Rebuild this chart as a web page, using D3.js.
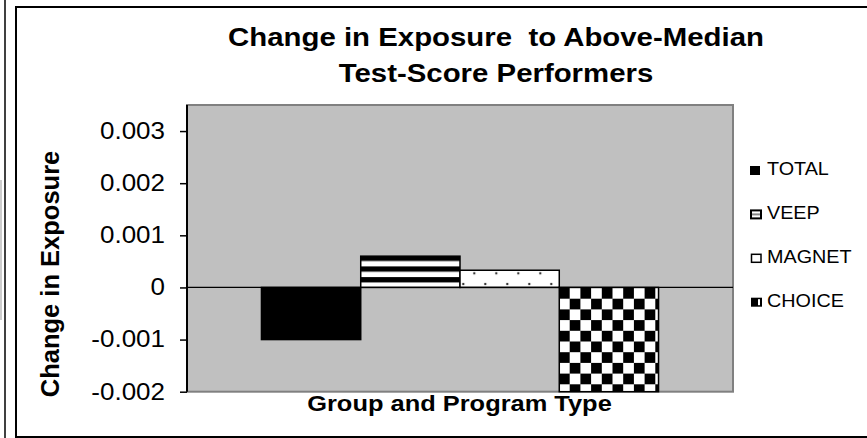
<!DOCTYPE html>
<html lang="en">
<head>
<meta charset="utf-8">
<script src="https://d3js.org/d3.v7.min.js"></script>
<style>
  html, body { margin: 0; padding: 0; overflow: hidden; background: #fff; }
  svg { display: block; }
  text { font-family: Arial, "Liberation Sans", sans-serif; fill: #000; }
</style>
</head>
<body>
<script>
// chart data
var series = ["TOTAL", "VEEP", "MAGNET", "CHOICE"];
var values = [-0.001, 0.0006, 0.00033, -0.002];
var yTicks = [-0.002, -0.001, 0, 0.001, 0.002, 0.003];
var fills = ["#000", "url(#stripes)", "url(#dots)", "url(#checks)"];

var width = 867, height = 438;
var sx = 1.13; // text in the picture is a little wide

var svg = d3.select("body").append("svg")
    .attr("width", width)
    .attr("height", height);

svg.append("rect").attr("width", width).attr("height", height).attr("fill", "#fff");

// fill patterns
var defs = svg.append("defs");

var stripes = defs.append("pattern").attr("id", "stripes")
    .attr("patternUnits", "userSpaceOnUse")
    .attr("width", 10).attr("height", 10.7).attr("y", 255.7);
stripes.append("rect").attr("width", 10).attr("height", 10.7).attr("fill", "#fff");
stripes.append("rect").attr("width", 10).attr("height", 5.3).attr("fill", "#000");

var dots = defs.append("pattern").attr("id", "dots")
    .attr("patternUnits", "userSpaceOnUse")
    .attr("width", 22).attr("height", 21.4).attr("x", 463.3).attr("y", 273.3 - 21.4 + 10.7);
dots.append("rect").attr("width", 22).attr("height", 21.4).attr("fill", "#fff");
[[0, 0], [22, 0], [0, 21.4], [22, 21.4], [11, 10.7]].forEach(function(p) {
    dots.append("circle").attr("cx", p[0]).attr("cy", p[1]).attr("r", 1.2).attr("fill", "#333");
});

var checks = defs.append("pattern").attr("id", "checks")
    .attr("patternUnits", "userSpaceOnUse")
    .attr("width", 21.4).attr("height", 21.4).attr("x", 559).attr("y", 288);
checks.append("rect").attr("width", 21.4).attr("height", 21.4).attr("fill", "#fff");
checks.append("rect").attr("x", 0).attr("y", 0).attr("width", 10.7).attr("height", 10.7).attr("fill", "#000");
checks.append("rect").attr("x", 10.7).attr("y", 10.7).attr("width", 10.7).attr("height", 10.7).attr("fill", "#000");

// leftover edge of the neighbouring chart
svg.append("line").attr("x1", 5).attr("y1", 0).attr("x2", 5).attr("y2", height)
    .attr("stroke", "#000").attr("stroke-width", 1.5);
svg.append("line").attr("x1", 1).attr("y1", 180).attr("x2", 1).attr("y2", 320)
    .attr("stroke", "#bbb").attr("stroke-width", 1.5);

// chart frame (right side runs off the picture)
svg.append("path")
    .attr("d", "M" + width + ",7H16V437H" + width)
    .attr("fill", "none").attr("stroke", "#000").attr("stroke-width", 2);

// plot area
var plot = {left: 187, right: 733, top: 105, bottom: 391.7};

var x = d3.scaleBand().domain(series)
    .range([plot.left, plot.right])
    .paddingInner(0).paddingOuter(0.75);

var y = d3.scaleLinear().domain([-0.002, 0.0035])
    .range([plot.bottom, plot.top]);

svg.append("rect")
    .attr("x", plot.left).attr("y", plot.top)
    .attr("width", plot.right - plot.left).attr("height", plot.bottom - plot.top)
    .attr("fill", "#c0c0c0").attr("stroke", "#808080").attr("stroke-width", 2);

// bars
svg.selectAll(".bar").data(series).enter().append("rect")
    .attr("class", "bar")
    .attr("x", function(d) { return x(d); })
    .attr("width", x.bandwidth())
    .attr("y", function(d, i) { return y(Math.max(0, values[i])); })
    .attr("height", function(d, i) { return Math.abs(y(values[i]) - y(0)); })
    .attr("fill", function(d, i) { return fills[i]; })
    .attr("stroke", "#000").attr("stroke-width", 1.5);

// zero line
svg.append("line")
    .attr("x1", plot.left).attr("x2", plot.right)
    .attr("y1", y(0)).attr("y2", y(0))
    .attr("stroke", "#000").attr("stroke-width", 1.2);

// y axis
var yAxis = svg.append("g")
    .attr("transform", "translate(" + plot.left + ",0)")
    .call(d3.axisLeft(y).tickValues(yTicks).tickSize(7)
        .tickFormat(function(d) { return d === 0 ? "0" : d3.format(".3f")(d).replace("\u2212", "-"); }));
yAxis.select(".domain").attr("d", "M0," + plot.top + "V" + plot.bottom)
    .attr("stroke", "#000").attr("stroke-width", 2);
yAxis.selectAll(".tick line").attr("stroke", "#000").attr("stroke-width", 1.5);
yAxis.selectAll(".tick text")
    .attr("x", 0)
    .attr("transform", "translate(-22,0) scale(" + sx + ",1)")
    .style("font-size", "23px").style("font-family", "Arial, 'Liberation Sans', sans-serif");

// titles
var title = svg.append("text")
    .attr("text-anchor", "middle")
    .attr("transform", "translate(496,0) scale(" + sx + ",1)")
    .style("font-size", "26px").style("font-weight", "bold");
title.append("tspan").attr("x", 0).attr("y", 46).attr("xml:space", "preserve")
    .text("Change in Exposure  to Above-Median");
title.append("tspan").attr("x", 0).attr("y", 82).text("Test-Score Performers");

svg.append("text")
    .attr("text-anchor", "middle")
    .attr("transform", "translate(459.5,411) scale(" + sx + ",1)")
    .style("font-size", "22.5px").style("font-weight", "bold")
    .text("Group and Program Type");

svg.append("text")
    .attr("text-anchor", "middle")
    .attr("transform", "translate(59,274) rotate(-90)")
    .style("font-size", "25.5px").style("font-weight", "bold")
    .text("Change in Exposure");

// legend
var leg = svg.selectAll(".leg").data(series).enter().append("g")
    .attr("class", "leg")
    .attr("transform", function(d, i) { return "translate(750," + (175 + i * 43.9) + ")"; });

leg.append("text")
    .attr("transform", "translate(17,0) scale(" + sx + ",1)")
    .style("font-size", "17.5px")
    .text(function(d) { return d; });

// small swatches
leg.each(function(d, i) {
    var g = d3.select(this);
    if (i === 0) {
        g.append("rect").attr("x", 0).attr("y", -9).attr("width", 10).attr("height", 9).attr("fill", "#000");
    } else if (i === 1) {
        g.append("rect").attr("x", 1).attr("y", -8.5).attr("width", 10).attr("height", 8)
            .attr("fill", "#fff").attr("stroke", "#000").attr("stroke-width", 2);
        g.append("line").attr("x1", 2).attr("x2", 10).attr("y1", -4.5).attr("y2", -4.5)
            .attr("stroke", "#888").attr("stroke-width", 2);
    } else if (i === 2) {
        g.append("rect").attr("x", 1.5).attr("y", -8.5).attr("width", 9.5).attr("height", 8)
            .attr("fill", "#fff").attr("stroke", "#000").attr("stroke-width", 1.5);
    } else {
        g.append("rect").attr("x", 1).attr("y", -9).attr("width", 11).attr("height", 9).attr("fill", "#000");
        g.append("rect").attr("x", 8).attr("y", -7.5).attr("width", 2).attr("height", 6).attr("fill", "#fff");
    }
});
</script>
</body>
</html>
